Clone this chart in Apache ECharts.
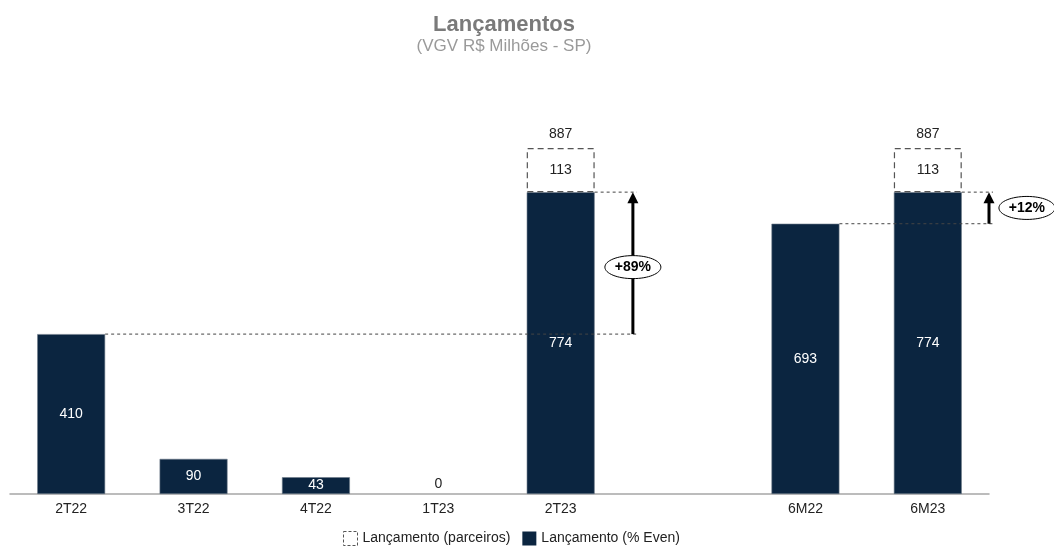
<!DOCTYPE html>
<html>
<head>
<meta charset="utf-8">
<script src="https://cdn.jsdelivr.net/npm/echarts@6/dist/echarts.min.js"></script>
<style>
html,body{margin:0;padding:0;background:#fff;}
#c{width:1054px;height:553px;}
</style>
</head>
<body>
<div id="c"></div>
<script>
// ---- data ----
const categories = ['2T22', '3T22', '4T22', '1T23', '2T23', '', '6M22', '6M23'];
const evenValues = [410, 90, 43, 0, 774, null, 693, 774];
const partnerValues = [null, null, null, null, 113, null, null, 113];
const totalValues = [null, null, null, null, 887, null, null, 887];
const comparisons = [
  { from: '2T22', to: '2T23', label: '+89%' },
  { from: '6M22', to: '6M23', label: '+12%' }
];
const titleText = 'Lançamentos';
const subtitleText = '(VGV R$ Milhões - SP)';
const seriesNames = ['Lançamento (parceiros)', 'Lançamento (% Even)'];

// ---- chart ----
const DARK = '#0b2540';
const FONT = 'Liberation Sans, Arial, sans-serif';
const FS = 14;
const chart = echarts.init(document.getElementById('c'), null, { renderer: 'canvas' });

const evenData = evenValues.map(v => {
  if (v === 0) return {
    value: 0,
    itemStyle: { color: 'rgba(0,0,0,0)', borderWidth: 0 },
    label: { position: 'top', color: '#222', distance: 3 }
  };
  return v;
});

chart.setOption({
  animation: false,
  textStyle: { fontFamily: FONT },
  title: {
    text: titleText,
    subtext: subtitleText,
    left: 499,
    textAlign: 'center',
    top: 9,
    itemGap: 2,
    textStyle: { fontSize: 22, fontWeight: 'bold', color: '#7a7a7a', fontFamily: FONT },
    subtextStyle: { fontSize: 17, color: '#9a9a9a', fontFamily: FONT }
  },
  legend: {
    data: [
      { name: seriesNames[0], itemStyle: { color: '#fff', borderColor: '#555', borderWidth: 1, borderType: [3, 2] } },
      { name: seriesNames[1], itemStyle: { color: DARK, borderWidth: 0 } }
    ],
    left: 338,
    bottom: 2,
    itemWidth: 14,
    itemHeight: 14,
    itemGap: 12,
    icon: 'rect',
    textStyle: { fontSize: FS, color: '#222', fontFamily: FONT }
  },
  grid: { left: 10, right: 65, top: 104, bottom: 59 },
  xAxis: {
    type: 'category',
    data: categories,
    axisLine: { lineStyle: { color: '#a6a6a6', width: 1.5 } },
    axisTick: { show: false },
    axisLabel: { color: '#222', fontSize: FS, margin: 8, interval: 0 }
  },
  yAxis: { type: 'value', min: 0, max: 1000, show: false, splitLine: { show: false } },
  series: [
    {
      name: seriesNames[1],
      type: 'bar',
      stack: 'a',
      barWidth: '55.5%',
      data: evenData,
      itemStyle: { color: DARK, borderColor: '#6d7b88', borderWidth: 0.6 },
      label: { show: true, position: 'inside', color: '#fff', fontSize: FS }
    },
    {
      name: seriesNames[0],
      type: 'bar',
      stack: 'a',
      barWidth: '55.5%',
      data: partnerValues,
      itemStyle: { color: '#fff', borderColor: '#555', borderWidth: 1.2, borderType: [6, 4] },
      label: { show: true, position: 'inside', color: '#222', fontSize: FS }
    },
    {
      name: 'total',
      type: 'scatter',
      data: totalValues,
      symbolSize: 1,
      itemStyle: { color: 'rgba(255,255,255,0)', opacity: 1 },
      label: { show: true, position: 'top', color: '#222', fontSize: FS, distance: 6 },
      silent: true,
      z: 5
    }
  ]
});

// ---- annotations derived from data via the chart's scales ----
function px(cat, val) {
  return chart.convertToPixel({ xAxisIndex: 0, yAxisIndex: 0 }, [cat, val]);
}
const band = px(categories[1], 0)[0] - px(categories[0], 0)[0];
const barHalf = band * 0.555 / 2;
const shifts = [0.59, 0.5];       // arrow position relative to target bar (in bands)
const labelDx = [0, 0.31];        // ellipse label offset from arrow (in bands)
const elements = [];
comparisons.forEach((c, i) => {
  const fi = categories.indexOf(c.from), ti = categories.indexOf(c.to);
  const pf = px(c.from, evenValues[fi]);
  const pt = px(c.to, evenValues[ti]);
  const ax = pt[0] + band * shifts[i];
  const dash = { stroke: '#444', lineWidth: 1, lineDash: [3, 3] };
  elements.push({ type: 'line', z: 100, shape: { x1: pf[0] + barHalf, y1: pf[1], x2: ax + 4, y2: pf[1] }, style: dash });
  elements.push({ type: 'line', z: 100, shape: { x1: pt[0] + barHalf, y1: pt[1], x2: ax + 4, y2: pt[1] }, style: dash });
  elements.push({ type: 'line', z: 100, shape: { x1: ax, y1: pf[1], x2: ax, y2: pt[1] + 9 }, style: { stroke: '#000', lineWidth: 3 } });
  elements.push({ type: 'polygon', z: 100, shape: { points: [[ax, pt[1]], [ax - 5.5, pt[1] + 11], [ax + 5.5, pt[1] + 11]] }, style: { fill: '#000' } });
  const cx = ax + band * labelDx[i];
  const cy = (pf[1] + pt[1]) / 2 + (i === 0 ? 4 : 0);
  elements.push({ type: 'ellipse', z: 101, shape: { cx: cx, cy: cy, rx: 28, ry: 11.5 }, style: { fill: '#fff', stroke: '#000', lineWidth: 1 } });
  elements.push({ type: 'text', z: 102, x: cx, y: cy, style: { text: c.label, fill: '#000', font: 'bold 14px ' + FONT, align: 'center', verticalAlign: 'middle' } });
});
chart.setOption({ graphic: elements });
</script>
</body>
</html>
